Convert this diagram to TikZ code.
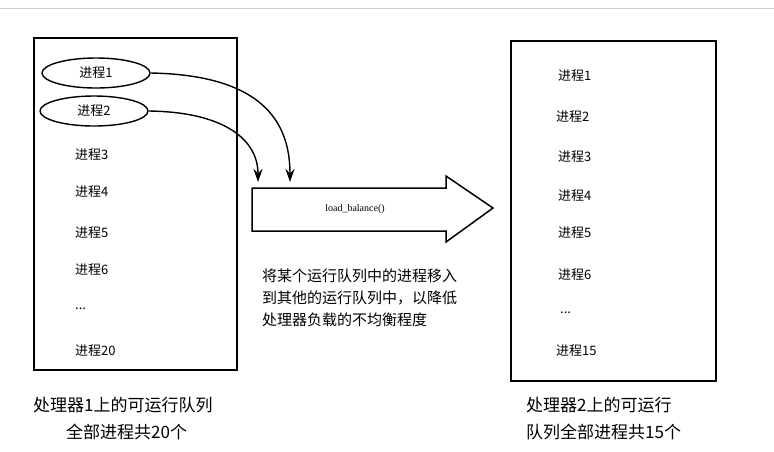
\documentclass[tikz,border=0pt]{standalone}
\usepackage{fontspec}
\setmainfont{Liberation Serif}
\newfontfamily\cjk{Noto Sans CJK SC}
\usetikzlibrary{shapes.geometric,arrows.meta}
\begin{document}
\begin{tikzpicture}[x=1pt,y=-1pt,
  box/.style={draw,line width=1.5pt},
  lbl/.style={font=\cjk\fontsize{13}{15}\selectfont,anchor=west,inner sep=0},
  captext/.style={font=\cjk\fontsize{17}{19}\selectfont,inner sep=0,anchor=west},
  ell/.style={draw,ellipse,line width=1.4pt,minimum width=108pt,minimum height=30pt,font=\cjk\fontsize{13}{15}\selectfont},
  conn/.style={line width=1.4pt,-{Stealth[length=13pt,width=9pt]}}]
\useasboundingbox (0,0) rectangle (774,451);
\draw[gray!40] (0,8) -- (774,8);
\node[box,minimum width=203pt,minimum height=332pt,inner sep=0] (lq) at (135.5,204) {};
\node[box,minimum width=205pt,minimum height=340pt,inner sep=0] (rq) at (613.5,211) {};
\node[ell] (p1) at (96,73) {进程1};
\node[ell] (p2) at (94,111) {进程2};
\node[lbl] (l3) at (75,155) {进程3};
\node[lbl] (l4) at (75,192) {进程4};
\node[lbl] (l5) at (75,233) {进程5};
\node[lbl] (l6) at (75,270) {进程6};
\node[lbl] (l7) at (75,309) {...};
\node[lbl] (l20) at (75,351) {进程20};
\node[lbl] (r1) at (558,76) {进程1};
\node[lbl] (r2) at (556,117) {进程2};
\node[lbl] (r3) at (558,157) {进程3};
\node[lbl] (r4) at (558,196) {进程4};
\node[lbl] (r5) at (558,233) {进程5};
\node[lbl] (r6) at (558,275) {进程6};
\node[lbl] (r7) at (560,313) {...};
\node[lbl] (r15) at (556,351) {进程15};
\draw[line width=1.5pt,line join=miter] (252,188) -- (446,188) -- (446,176) -- (493,208) -- (446,242) -- (446,231) -- (252,231) -- cycle;
\node[font=\fontsize{10}{12}\selectfont] (lb) at (355,209) {load\_balance()};
\coordinate (t1) at (290,182);
\coordinate (t2) at (258,182);
\draw[conn] (p1.east) .. controls (260,75) and (290,120) .. (t1);
\draw[conn] (p2.east) .. controls (225,112) and (258,140) .. (t2);
\node[font=\cjk\fontsize{15}{22}\selectfont,align=left,inner sep=0,anchor=north west] (mid) at (262,269)
 {将某个运行队列中的进程移入\\到其他的运行队列中，以降低\\处理器负载的不均衡程度};
\node[captext] (c1) at (33,405) {处理器1上的可运行队列};
\node[captext] (c2) at (66,432) {全部进程共20个};
\node[captext] (c3) at (526,405) {处理器2上的可运行};
\node[captext] (c4) at (526,432) {队列全部进程共15个};
\end{tikzpicture}
\end{document}
